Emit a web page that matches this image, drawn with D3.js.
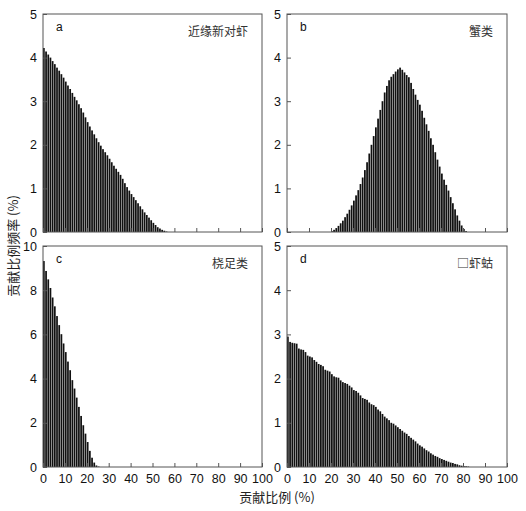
<!DOCTYPE html>
<html>
<head>
<meta charset="utf-8">
<script src="https://cdn.jsdelivr.net/npm/d3@7"></script>
<style>
  body { margin: 0; background: #fff; }
  svg { display: block; }
  .tick text { font-family: "Liberation Sans", Arial, sans-serif; font-size: 12.5px; fill: #111; }
  .axis path { display: none; }
  .axis line { stroke: #555; }
</style>
</head>
<body>
<svg id="chart" width="526" height="511"></svg>
<script>
// bin values, one bar per 1% of contribution, starting at 0
var seriesA = [4.22, 4.14, 4.07, 4.0, 3.92, 3.85, 3.77, 3.7, 3.62, 3.54,
    3.45, 3.36, 3.28, 3.19, 3.1, 3.02, 2.93, 2.84, 2.74, 2.63,
    2.52, 2.42, 2.33, 2.24, 2.15, 2.06, 1.98, 1.9, 1.83, 1.76,
    1.68, 1.6, 1.52, 1.45, 1.38, 1.31, 1.22, 1.12, 1.03, 0.95,
    0.87, 0.8, 0.73, 0.66, 0.59, 0.52, 0.45, 0.39, 0.33, 0.27,
    0.21, 0.16, 0.11, 0.08, 0.05, 0.03, 0.01];

var seriesB = [0, 0, 0, 0, 0, 0, 0, 0, 0, 0,
    0, 0, 0, 0, 0, 0, 0, 0, 0, 0,
    0.02, 0.05, 0.09, 0.14, 0.2, 0.26, 0.34, 0.42, 0.51, 0.61,
    0.72, 0.84, 0.96, 1.1, 1.25, 1.42, 1.6, 1.8, 2.0, 2.2,
    2.4, 2.6, 2.8, 3.0, 3.2, 3.35, 3.48, 3.56, 3.62, 3.68,
    3.73, 3.77, 3.72, 3.66, 3.6, 3.55, 3.42, 3.28, 3.15, 3.03,
    2.92, 2.78, 2.62, 2.47, 2.32, 2.15, 2.0, 1.83, 1.66, 1.5,
    1.34, 1.2, 1.08, 0.95, 0.8, 0.66, 0.52, 0.38, 0.26, 0.15,
    0.07, 0.02];

var seriesC = [9.32, 8.87, 8.49, 8.1, 7.67, 7.27, 6.83, 6.42, 6.01, 5.59,
    5.2, 4.77, 4.38, 3.93, 3.55, 3.14, 2.72, 2.31, 1.89, 1.51,
    1.13, 0.73, 0.42, 0.2, 0.07, 0.02];

var seriesD = [2.95, 2.83, 2.81, 2.8, 2.79, 2.68, 2.66, 2.65, 2.6, 2.52,
    2.5, 2.48, 2.42, 2.38, 2.33, 2.31, 2.28, 2.2, 2.18, 2.16,
    2.1, 2.05, 2.03, 2.02, 1.96, 1.92, 1.9, 1.88, 1.84, 1.8,
    1.74, 1.72, 1.68, 1.62, 1.56, 1.54, 1.52, 1.46, 1.42, 1.4,
    1.36, 1.3, 1.26, 1.2, 1.14, 1.1, 1.06, 1.0, 0.98, 0.94,
    0.9, 0.86, 0.82, 0.78, 0.75, 0.7, 0.66, 0.62, 0.58, 0.53,
    0.49, 0.46, 0.42, 0.38, 0.35, 0.31, 0.28, 0.25, 0.23, 0.2,
    0.18, 0.16, 0.14, 0.12, 0.1, 0.09, 0.07, 0.06, 0.04, 0.03,
    0.02, 0.015, 0.01];

var panelLetters = ["a", "b", "c", "d"];
var panelNames = ["近缘新对虾", "蟹类", "桡足类", "□虾蛄"];
var yMaxes = [5, 5, 10, 5];
var yTickSets = [[0, 1, 2, 3, 4, 5], [0, 1, 2, 3, 4, 5], [0, 2, 4, 6, 8, 10], [0, 1, 2, 3, 4, 5]];
var xTickValues = [0, 10, 20, 30, 40, 50, 60, 70, 80, 90, 100];
var xLabel = "贡献比例 (%)";
var yLabel = "贡献比例频率 (%)";

var allSeries = [seriesA, seriesB, seriesC, seriesD];

var svg = d3.select("#chart");
var font = '"Liberation Sans", Arial, sans-serif';

// panel boxes in page pixels
var cols = [[43, 262], [287, 507]];
var rows = [[14, 232], [246, 467]];

allSeries.forEach(function(values, i) {
    var col = cols[i % 2], row = rows[Math.floor(i / 2)];
    var width = col[1] - col[0], height = row[1] - row[0];
    var g = svg.append("g").attr("transform", "translate(" + col[0] + "," + row[0] + ")");

    var x = d3.scaleLinear().domain([0, 100]).range([0, width]);
    var y = d3.scaleLinear().domain([0, yMaxes[i]]).range([height, 0]);

    var bars = values.map(function(v, k) { return {bin: k, value: v}; })
        .filter(function(d) { return d.value > 0; });

    g.selectAll("rect.bar")
        .data(bars)
        .enter()
        .append("rect")
        .attr("class", "bar")
        .attr("x", function(d) { return x(d.bin); })
        .attr("width", function(d) { return x(d.bin + 1) - x(d.bin) - 0.45; })
        .attr("y", function(d) { return y(d.value); })
        .attr("height", function(d) { return height - y(d.value); })
        .attr("fill", "#111");

    var xAxis = d3.axisBottom(x)
        .tickValues(xTickValues)
        .tickSizeInner(-4)
        .tickSizeOuter(0)
        .tickPadding(7);
    if (i < 2) xAxis.tickFormat("");

    g.append("g")
        .attr("class", "axis axis--x")
        .attr("transform", "translate(0," + height + ")")
        .call(xAxis);

    var yAxis = d3.axisLeft(y)
        .tickValues(yTickSets[i])
        .tickSizeInner(-4)
        .tickSizeOuter(0)
        .tickPadding(6)
        .tickFormat(d3.format("d"));

    g.append("g")
        .attr("class", "axis axis--y")
        .call(yAxis);

    g.append("rect")
        .attr("x", 0).attr("y", 0)
        .attr("width", width).attr("height", height)
        .attr("fill", "none")
        .attr("stroke", "#555")
        .attr("stroke-width", 1);

    g.append("text")
        .attr("x", 13).attr("y", 17)
        .attr("font-family", font)
        .attr("font-size", 12)
        .attr("fill", "#111")
        .text(panelLetters[i]);

    g.append("text")
        .attr("x", width - 14).attr("y", 22)
        .attr("text-anchor", "end")
        .attr("font-family", '"Noto Sans CJK SC", sans-serif')
        .attr("font-size", 12)
        .attr("fill", "#333")
        .text(panelNames[i]);
});

svg.append("text")
    .attr("x", 277).attr("y", 502)
    .attr("text-anchor", "middle")
    .attr("font-family", '"Noto Sans CJK SC", sans-serif')
    .attr("font-size", 13)
    .attr("fill", "#222")
    .text(xLabel);

svg.append("text")
    .attr("transform", "translate(18,246) rotate(-90)")
    .attr("text-anchor", "middle")
    .attr("font-family", '"Noto Sans CJK SC", sans-serif')
    .attr("font-size", 13)
    .attr("fill", "#222")
    .text(yLabel);
</script>
</body>
</html>
